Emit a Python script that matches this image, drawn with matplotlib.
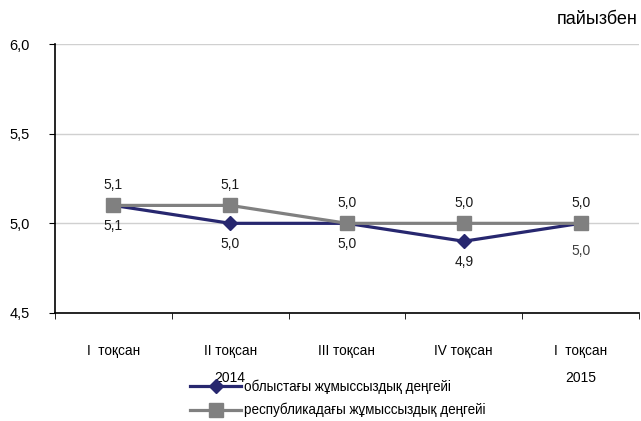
import matplotlib
matplotlib.use("Agg")
import matplotlib.pyplot as plt
import numpy as np

plt.rcParams['font.family'] = ['Liberation Sans', 'DejaVu Sans']

categories = ["I  тоқсан", "II тоқсан", "III тоқсан", "IV тоқсан", "I  тоқсан"]
years = ["2014", "2015"]
year_pos = [1, 4]
region = [5.1, 5.0, 5.0, 4.9, 5.0]
republic = [5.1, 5.1, 5.0, 5.0, 5.0]
region_label = "облыстағы жұмыссыздық деңгейі"
republic_label = "республикадағы жұмыссыздық деңгейі"
yticks = [4.5, 5.0, 5.5, 6.0]

blue = '#27276F'
grey = '#808080'

fig = plt.figure(figsize=(6.41, 4.21), dpi=100)
ax = fig.add_axes([55/641, (421-313)/421, (639-55)/641, (313-44)/421])

x = np.arange(len(categories))
l1, = ax.plot(x, region, color=blue, lw=2.3, marker='D', ms=7.5, zorder=3)
l2, = ax.plot(x, republic, color=grey, lw=2.3, marker='s', ms=10, zorder=4)

ax.set_xlim(-0.5, len(categories) - 0.5)
ax.set_ylim(4.5, 6.0)
ax.set_yticks(yticks)
ax.set_yticklabels([f"{v:.1f}".replace('.', ',') for v in yticks], fontsize=10.5)
ax.yaxis.grid(True, color='#d0d0d0', lw=1)
ax.set_axisbelow(True)
ax.set_xticks(x)
ax.set_xticklabels(categories, fontsize=9.8)
ax.tick_params(axis='x', which='major', length=0, pad=22)
ax.set_xticks(np.arange(len(categories) + 1) - 0.5, minor=True)
ax.tick_params(axis='x', which='minor', length=4, direction='out')
ax.tick_params(axis='y', length=4, direction='out', pad=14)
for s in ['top', 'right']:
    ax.spines[s].set_visible(False)
ax.spines['left'].set_linewidth(1.2)
ax.spines['bottom'].set_linewidth(1.2)

for i, v in enumerate(republic):
    ax.annotate(f"{v:.1f}".replace('.', ','), (x[i], v), xytext=(0, 15),
                textcoords='offset points', ha='center', va='center', fontsize=10, color='#1a1a1a')
for i, v in enumerate(region):
    off = -20 if i == len(region) - 1 else -15
    col = '#404040' if i == len(region) - 1 else '#1a1a1a'
    ax.annotate(f"{v:.1f}".replace('.', ','), (x[i], v), xytext=(0, off),
                textcoords='offset points', ha='center', va='center', fontsize=10, color=col)

for yr, p in zip(years, year_pos):
    ax.annotate(yr, (p, 0), xycoords=('data', 'figure fraction'), xytext=(0, (421-378)/100*72),
                textcoords='offset points', ha='center', va='center', fontsize=10)

fig.text(638/641, 1 - 20/421, "пайызбен", ha='right', va='center', fontsize=13)

fig.legend([l1, l2], [region_label, republic_label], loc='upper left',
           bbox_to_anchor=(183/641, 1 - 373/421), frameon=False, fontsize=9.75,
           handlelength=3.8, handletextpad=0.2, labelspacing=0.65, borderpad=0)

fig.savefig("out.png", dpi=100)
